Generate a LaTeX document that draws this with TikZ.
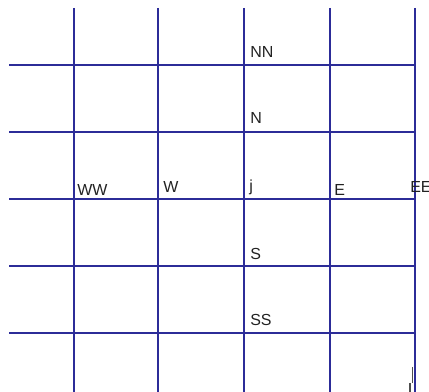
\documentclass[tikz,border=0pt]{standalone}
\usepackage{fontspec}
\setmainfont{Liberation Sans}
\usepackage{xcolor}
\usetikzlibrary{positioning}
\definecolor{gridblue}{HTML}{2C2C98}
\definecolor{labelgray}{HTML}{222222}

\begin{document}
\begin{tikzpicture}[
    x=0.75pt, y=-0.75pt,
    gridline/.style={draw=gridblue, line width=1.1pt},
    cell/.style={anchor=base west, inner sep=0pt, text=labelgray,
                 font=\fontsize{12}{14}\selectfont},
    tick/.style={draw=labelgray!80, line width=0.9pt},
]
\useasboundingbox (0,0) rectangle (429,392);

% grid
\foreach \gx in {74,158,244,330,415}
    \draw[gridline] (\gx,8) -- (\gx,392);
\foreach \gy in {65,132,199,266,333}
    \draw[gridline] (9,\gy) -- (415,\gy);

% cell labels
\node[cell] (lblNN) at (250,58)  {NN};
\node[cell] (lblN)  at (250,124) {N};
\node[cell] (lblWW) at (77,196)  {WW};
\node[cell] (lblW)  at (163,193) {W};
\node[cell] (lblj)  at (249,192) {j};
\node[cell] (lblE)  at (334,196) {E};
\node[cell] (lblEE) at (410,193) {EE};
\node[cell] (lblS)  at (250,260) {S};
\node[cell] (lblSS) at (250,326) {SS};

% mark, bottom right
\coordinate (mkA) at (412.3,367);
\coordinate (mkB) at (412.3,383);
\coordinate (mkC) at (410,383);
\coordinate (mkD) at (410,392);
\draw[tick] (mkA) -- (mkB);
\draw[tick] (mkC) -- (mkD);
\end{tikzpicture}
\end{document}
